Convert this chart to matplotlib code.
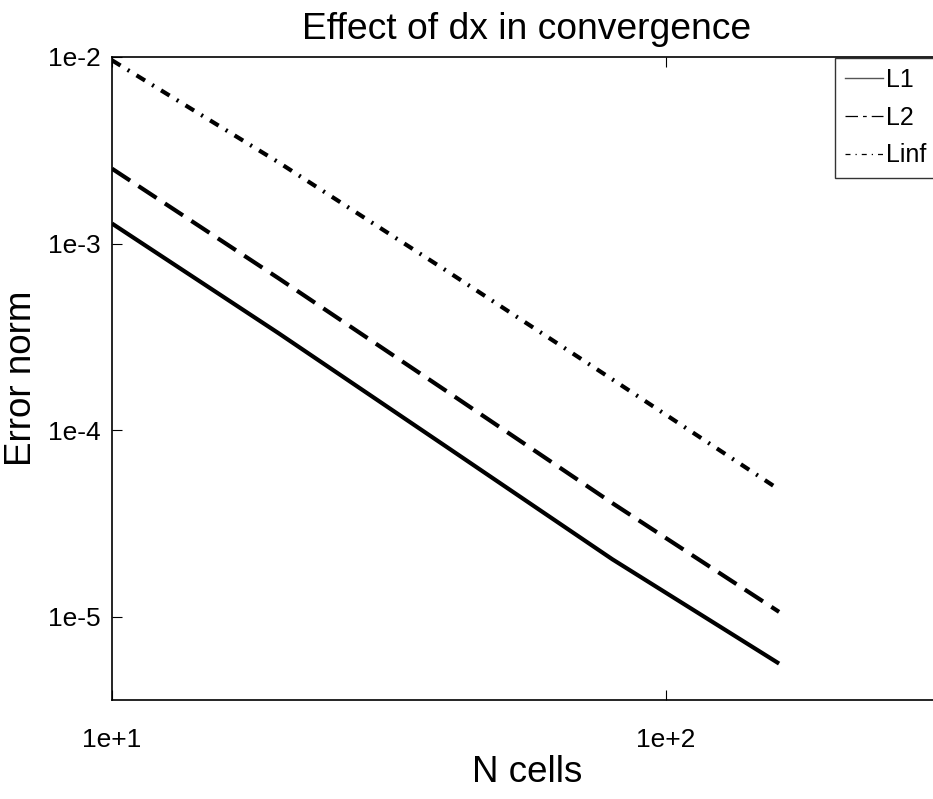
import matplotlib
matplotlib.use("Agg")
import matplotlib.pyplot as plt
from matplotlib.lines import Line2D

plt.rcParams["font.family"] = ["Liberation Sans", "DejaVu Sans"]

# ------------------------------------------------------------------
# Data
# ------------------------------------------------------------------
n_cells = [10, 20, 40, 80, 160]
err_l1 = [1.28e-3, 3.3e-4, 8.2e-5, 2.03e-5, 5.6e-6]
err_l2 = [2.52e-3, 6.5e-4, 1.63e-4, 4.06e-5, 1.06e-5]
err_linf = [9.6e-3, 2.72e-3, 7.2e-4, 1.87e-4, 4.8e-5]

x_ticks = [10, 100]
x_tick_labels = ["1e+1", "1e+2"]
y_ticks = [1e-5, 1e-4, 1e-3, 1e-2]
y_tick_labels = ["1e-5", "1e-4", "1e-3", "1e-2"]

W, H = 933, 799
left, right, top, bottom = 112, 942, 57, 700
fig = plt.figure(figsize=(W / 100, H / 100), dpi=100)
ax = fig.add_axes([left / W, 1 - bottom / H, (right - left) / W,
                   (bottom - top) / H])

lw = 3
ax.plot(n_cells, err_l1, color="black", lw=lw, solid_capstyle="butt")
ax.plot(n_cells, err_l2, color="black", lw=lw, dashes=(5.2, 2.4),
        dash_capstyle="butt")
ax.plot(n_cells, err_linf, color="black", lw=lw, dashes=(2.4, 2.0, 0.5, 2.0),
        dash_capstyle="butt")

ax.set_xscale("log")
ax.set_yscale("log")
ax.set_xlim(10, 10 ** (1 + (right - left) / 554))
ax.set_ylim(10 ** -5.447, 1e-2)

ax.set_xticks(x_ticks)
ax.set_xticklabels(x_tick_labels)
ax.set_yticks(y_ticks)
ax.set_yticklabels(y_tick_labels)
ax.minorticks_off()
ax.tick_params(which="major", direction="in", length=7, width=0.8,
               top=True, right=False, labelsize=19, colors="black")
ax.tick_params(axis="x", pad=20)
ax.tick_params(axis="y", pad=8)
for sp in ax.spines.values():
    sp.set_linewidth(1.2)

ax.set_title("Effect of dx in convergence", fontsize=26.8, pad=13)
ax.set_xlabel("N cells", fontsize=26.5)
ax.set_ylabel("Error norm", fontsize=26.5)
ax.xaxis.set_label_coords(0.5, -0.085)
ax.yaxis.set_label_coords(-0.088, 0.5)

# legend uses thin lines like the reference
handles = [
    Line2D([], [], color="#555555", lw=1.0),
    Line2D([], [], color="black", lw=0.9, dashes=(10, 4, 3, 4)),
    Line2D([], [], color="black", lw=0.9, dashes=(4, 4, 1, 4)),
]
leg = fig.legend(handles, ["L1", "L2", "Linf"], loc="upper left",
                 bbox_to_anchor=(835 / W, 1 - 58 / H),
                 bbox_transform=fig.transFigure, borderaxespad=0,
                 fontsize=18, frameon=True, fancybox=False, shadow=False,
                 handlelength=1.5, handletextpad=0.15, labelspacing=0.55,
                 borderpad=0.4)
leg.get_frame().set_edgecolor("black")
leg.get_frame().set_linewidth(1.0)

fig.savefig("out.png", dpi=100)
